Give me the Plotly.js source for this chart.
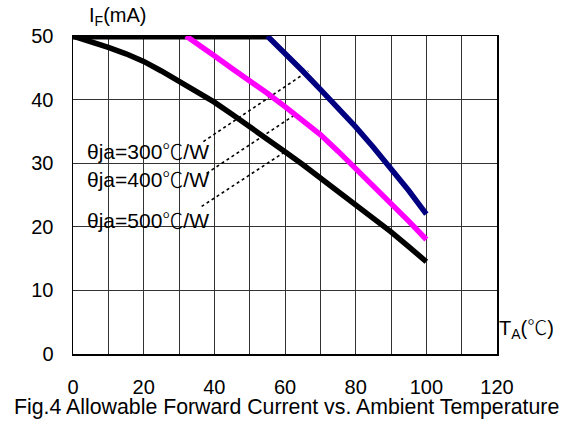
<!DOCTYPE html>
<html>
<head>
<meta charset="utf-8">
<script src="https://cdn.plot.ly/plotly-3.0.1.min.js"></script>
<style>html,body{margin:0;padding:0;background:#fff;}#chart{width:565px;height:421px;}</style>
</head>
<body>
<div id="chart"></div>
<script>
// Ambient temperature (°C) and allowable forward current (mA)
var capX = [0, 55];
var capY = [50, 50];

var r500X = [0, 5, 10, 15, 20, 25, 30, 35, 40, 45, 50, 55, 60, 65, 70, 75, 80, 85, 90, 95, 100];
var r500Y = [50, 49.2, 48.2, 47.2, 46.0, 44.5, 42.9, 41.3, 39.6, 37.7, 35.8, 33.8, 31.8, 29.8, 27.7, 25.6, 23.5, 21.4, 19.2, 16.9, 14.5];

var r400X = [32, 35, 40, 45, 50, 55, 60, 65, 70, 75, 80, 85, 90, 95, 100];
var r400Y = [50, 48.9, 46.9, 44.9, 43.0, 41.0, 38.9, 36.7, 34.5, 31.9, 29.2, 26.5, 23.7, 20.9, 18.0];

var r300X = [55, 60, 65, 70, 75, 80, 85, 90, 95, 100];
var r300Y = [50, 47.3, 44.5, 41.6, 38.7, 35.7, 32.5, 29.2, 25.7, 22.0];

// Leader lines from labels to curves
var lead300X = [36.9, 66.6], lead300Y = [33.4, 44.5];
var lead400X = [37.8, 62.8], lead400Y = [28.4, 37.6];
var lead500X = [36.4, 60.0], lead500Y = [23.2, 31.8];

var xTicks = [0, 20, 40, 60, 80, 100, 120];
var yTicks = [0, 10, 20, 30, 40, 50];
var labels = ['θja=300', 'θja=400', 'θja=500'];
var labelY = [32.1, 27.6, 21.3];

var FONT = 'Arial, "Liberation Sans", sans-serif';
var CJK = '<span style="font-family:\'Noto Sans CJK JP\';font-weight:300">℃</span>';

function line(x, y, color, width, dash) {
  return {x: x, y: y, type: 'scatter', mode: 'lines', hoverinfo: 'skip',
          line: {color: color, width: width, dash: dash || 'solid'}};
}

var traces = [
  line(lead300X, lead300Y, '#000', 1.6, 'dot'),
  line(lead400X, lead400Y, '#000', 1.6, 'dot'),
  line(lead500X, lead500Y, '#000', 1.6, 'dot'),
  line(capX, capY, '#000', 7),
  line(r500X, r500Y, '#000', 5.5),
  line(r400X, r400Y, '#FF00FF', 5.5),
  line(r300X, r300Y, '#000080', 5.5)
];

var annotations = labels.map(function (t, i) {
  return {x: 3.4, y: labelY[i], xref: 'x', yref: 'y', xanchor: 'left', yanchor: 'middle',
          text: t + CJK + '/W', showarrow: false, font: {family: FONT, size: 21, color: '#000'}};
});
annotations.push({x: 0.5035, y: -0.168, xref: 'paper', yref: 'paper', xanchor: 'center', yanchor: 'middle',
  text: 'Fig.4 Allowable Forward Current vs. Ambient Temperature', showarrow: false,
  font: {family: FONT, size: 21.3, color: '#000'}});
annotations.push({x: 0.033, y: 1.06, xref: 'paper', yref: 'paper', xanchor: 'left', yanchor: 'middle',
  text: 'I<sub>F</sub>(mA)', showarrow: false, font: {family: FONT, size: 20, color: '#000'}});
annotations.push({x: 1.0, y: 4.2, xref: 'paper', yref: 'y', xanchor: 'left', yanchor: 'middle',
  text: 'T<sub>A</sub>(' + CJK + ')', showarrow: false, font: {family: FONT, size: 20, color: '#000'}});

var axisCommon = {
  showline: true, linecolor: '#000', linewidth: 1.5, mirror: true,
  showgrid: true, gridcolor: '#333', gridwidth: 1, zeroline: false,
  ticks: '', tickfont: {family: FONT, size: 20, color: '#000'}, fixedrange: true
};

var layout = {
  width: 565, height: 421,
  margin: {l: 73, r: 68, t: 36, b: 67},
  paper_bgcolor: '#fff', plot_bgcolor: '#fff',
  showlegend: false,
  xaxis: Object.assign({}, axisCommon, {range: [0, 120], tickvals: xTicks, ticklabelstandoff: 14,
    minor: {dtick: 10, showgrid: true, gridcolor: '#333', gridwidth: 1}}),
  yaxis: Object.assign({}, axisCommon, {range: [0, 50], tickvals: yTicks, ticklabelstandoff: 14}),
  annotations: annotations
};

Plotly.newPlot('chart', traces, layout, {staticPlot: true, displayModeBar: false});
</script>
</body>
</html>
